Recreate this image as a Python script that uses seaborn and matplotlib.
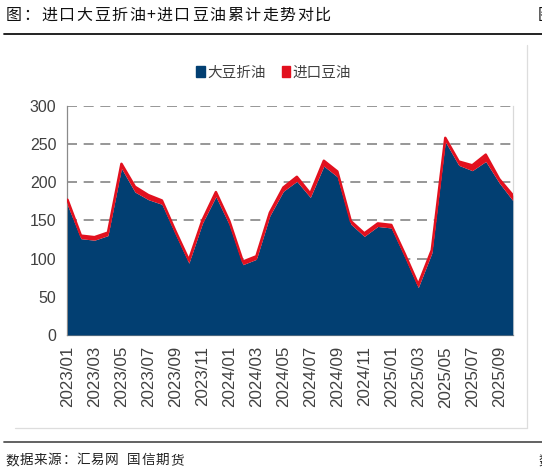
import numpy as np
import pandas as pd
import matplotlib
matplotlib.use("Agg")
import matplotlib.pyplot as plt
from matplotlib.lines import Line2D
from matplotlib.patches import Patch
import seaborn as sns

months = [
    "2023/01", "2023/02", "2023/03", "2023/04", "2023/05", "2023/06",
    "2023/07", "2023/08", "2023/09", "2023/10", "2023/11", "2023/12",
    "2024/01", "2024/02", "2024/03", "2024/04", "2024/05", "2024/06",
    "2024/07", "2024/08", "2024/09", "2024/10", "2024/11", "2024/12",
    "2025/01", "2025/02", "2025/03", "2025/04", "2025/05", "2025/06",
    "2025/07", "2025/08", "2025/09", "2025/10",
]
# 大豆折油 (soybean oil equivalent from imported soybeans)
soy_equiv = [170, 126, 124, 130, 218, 187, 177, 171, 132, 94, 146, 181,
             144, 92, 99, 156, 188, 201, 180, 221, 207, 145, 129, 142,
             140, 102, 62, 107, 253, 222, 215, 227, 199, 176]
# 进口豆油 (imported soybean oil)
soy_oil_import = [7, 4, 4, 4, 6, 7, 6, 5, 4, 4, 4, 6,
                  5, 4, 4, 4, 5, 6, 5, 7, 7, 4, 4, 4,
                  4, 4, 4, 4, 5, 5, 7, 9, 5, 7]

title = "图：进口大豆折油+进口豆油累计走势对比"
source = "数据来源：汇易网 国信期货"

blue = "#023F72"
red = "#E2101E"
grey_txt = "#404040"
W, H = 542, 473

sns.set_theme(style="white")
plt.rcParams["font.family"] = ["Liberation Sans", "Noto Sans CJK SC"]

df = pd.DataFrame({"month": months, "soy": soy_equiv, "oil": soy_oil_import})
df["x"] = np.arange(len(df))
df["total"] = df["soy"] + df["oil"]

fig = plt.figure(figsize=(W / 100, H / 100), dpi=100)
ax = fig.add_axes([0.1245, 0.2918, 0.8215, 0.4847])

ax.stackplot(df["x"], df["soy"], df["oil"], colors=[blue, red], linewidth=0, zorder=3)
sns.lineplot(data=df, x="x", y="total", color=red, linewidth=1.8, ax=ax, zorder=4)

ax.set_xlim(0, len(df) - 1)
ax.set_ylim(0, 300)
ax.set_yticks(range(0, 301, 50))
ax.set_xticks(df["x"][::2])
ax.set_xticklabels(df["month"][::2], rotation=90)
ax.set_xlabel("")
ax.set_ylabel("")

for v in range(50, 301, 50):
    ax.axhline(v, color="#858585", linewidth=1.2, linestyle=(0, (6, 4)), zorder=1)

ax.tick_params(axis="both", direction="out", length=5, width=0.8, color="#888888",
               labelcolor=grey_txt, pad=3)
ax.tick_params(axis="y", labelsize=11.5)
ax.tick_params(axis="x", labelsize=12.2)
ax.spines["top"].set_visible(False)
ax.spines["left"].set_color("#8a8a8a")
ax.spines["bottom"].set_color("#8a8a8a")
ax.spines["right"].set_color("#d9d9d9")
for s in ax.spines.values():
    s.set_linewidth(0.9)

handles = [Patch(facecolor=blue, edgecolor=blue), Patch(facecolor=red, edgecolor=red)]
fig.legend(handles, ["大豆折油", "进口豆油"], loc="center", bbox_to_anchor=(0.505, 0.846),
           ncol=2, frameon=False, handlelength=0.6, handleheight=0.8, handletextpad=0.15,
           columnspacing=1.1, prop={"family": ["Noto Sans CJK SC"], "size": 10.5},
           labelcolor=grey_txt)


def spaced_text(s, x0, y, pitch, size, color):
    # the page headings are letter-spaced, so lay them out glyph by glyph
    x = x0
    for ch in s:
        fig.text(x / W, 1 - y / H, ch, ha="left", va="center", fontsize=size,
                 family=["Noto Sans CJK SC"], color=color)
        x += pitch * (0.55 if ch in "+ " else 1.0)


spaced_text(title, 6, 15.5, 17.6, 11.5, "#111111")
spaced_text(source, 5, 460, 14.3, 9.8, "#222222")
fig.text(538 / W, 1 - 15.5 / H, "图", ha="left", va="center", fontsize=11.5,
         family=["Noto Sans CJK SC"], color="#111111")
fig.text(538 / W, 1 - 460 / H, "数", ha="left", va="center", fontsize=9.8,
         family=["Noto Sans CJK SC"], color="#222222")

fig.add_artist(Line2D([0.008, 1.0], [0.928, 0.928], color="#111111", linewidth=1.3,
                      transform=fig.transFigure))
fig.add_artist(Line2D([0.028, 0.972], [0.095, 0.095], color="#dddddd", linewidth=0.9,
                      transform=fig.transFigure))
fig.add_artist(Line2D([0.972, 0.972], [0.095, 0.905], color="#dddddd", linewidth=0.9,
                      transform=fig.transFigure))
fig.add_artist(Line2D([0.008, 1.0], [0.0645, 0.0645], color="#555555", linewidth=1.3,
                      transform=fig.transFigure))

fig.savefig("out.png", dpi=100)
